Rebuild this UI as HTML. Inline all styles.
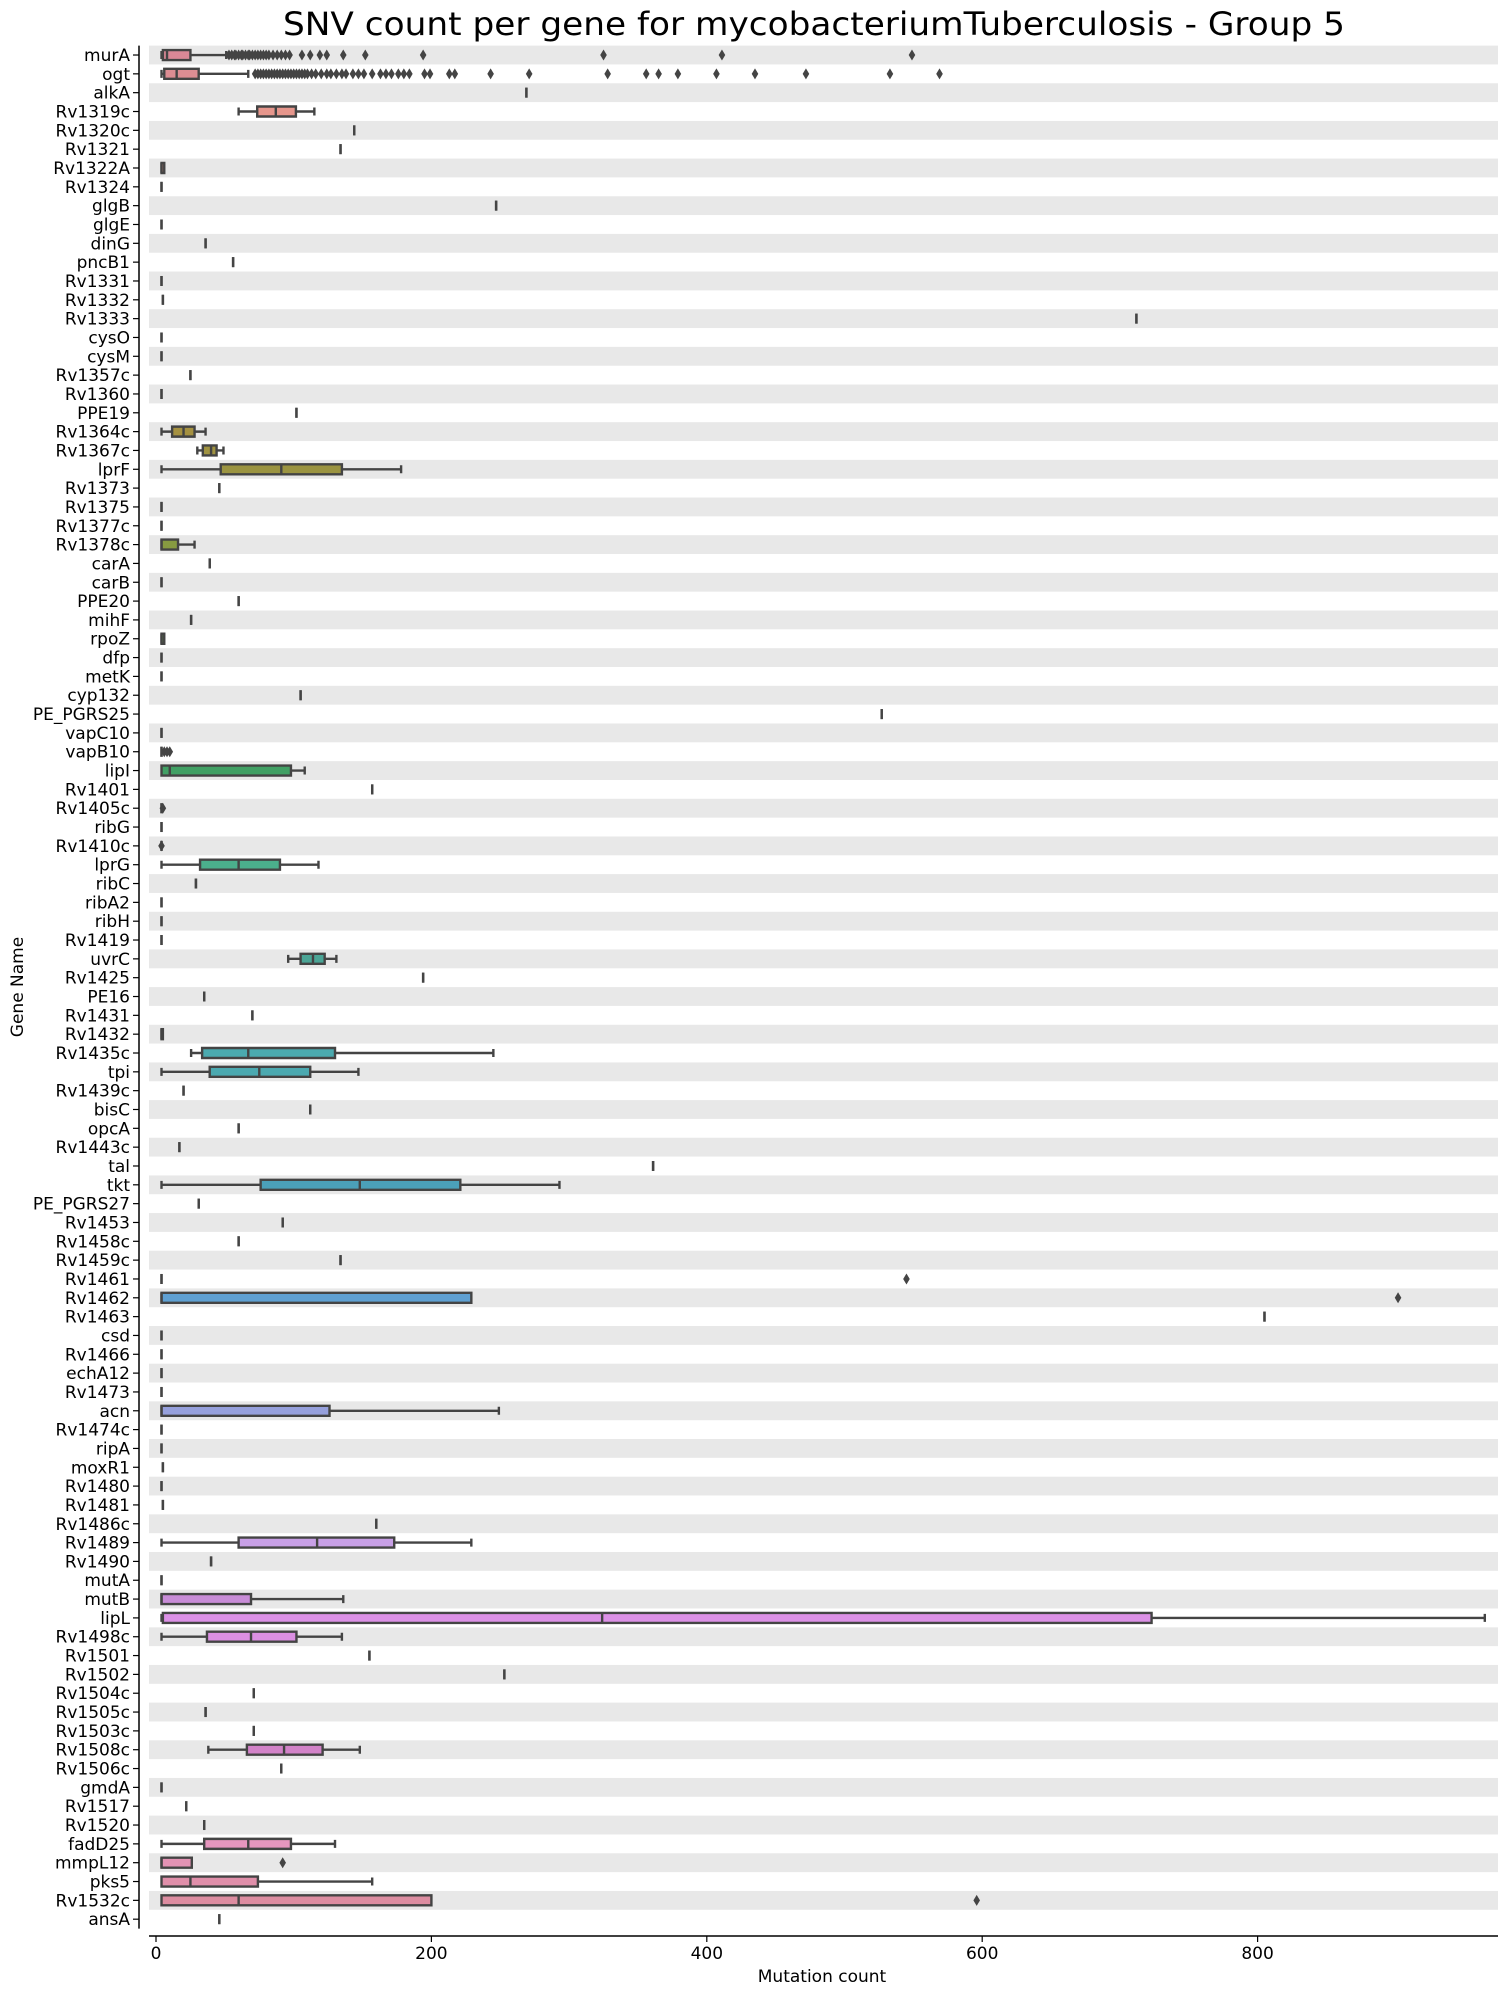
<!DOCTYPE html>
<html><head><meta charset="utf-8"><style>
html,body{margin:0;padding:0;background:#fff;}
svg{display:block;font-family:"DejaVu Sans","Liberation Sans",sans-serif;}
</style></head><body>
<svg id="chart" width="1508" height="1996" viewBox="0 0 1508 1996" xmlns="http://www.w3.org/2000/svg">
<text x="814" y="35" font-size="32" text-anchor="middle" textLength="1062" lengthAdjust="spacingAndGlyphs" fill="#000">SNV count per gene for mycobacteriumTuberculosis - Group 5</text>
<g id="stripes"></g>
<g id="boxes"></g>
<g id="yaxis"></g>
<g id="xaxis"></g>
<text x="822" y="1982" font-size="17" text-anchor="middle">Mutation count</text>
<text x="0" y="0" font-size="17" text-anchor="middle" transform="translate(23,987) rotate(-90)">Gene Name</text>
</svg>
<script>
const genes = ["murA","ogt","alkA","Rv1319c","Rv1320c","Rv1321","Rv1322A","Rv1324","glgB","glgE","dinG","pncB1","Rv1331","Rv1332","Rv1333","cysO","cysM","Rv1357c","Rv1360","PPE19","Rv1364c","Rv1367c","lprF","Rv1373","Rv1375","Rv1377c","Rv1378c","carA","carB","PPE20","mihF","rpoZ","dfp","metK","cyp132","PE_PGRS25","vapC10","vapB10","lipI","Rv1401","Rv1405c","ribG","Rv1410c","lprG","ribC","ribA2","ribH","Rv1419","uvrC","Rv1425","PE16","Rv1431","Rv1432","Rv1435c","tpi","Rv1439c","bisC","opcA","Rv1443c","tal","tkt","PE_PGRS27","Rv1453","Rv1458c","Rv1459c","Rv1461","Rv1462","Rv1463","csd","Rv1466","echA12","Rv1473","acn","Rv1474c","ripA","moxR1","Rv1480","Rv1481","Rv1486c","Rv1489","Rv1490","mutA","mutB","lipL","Rv1498c","Rv1501","Rv1502","Rv1504c","Rv1505c","Rv1503c","Rv1508c","Rv1506c","gmdA","Rv1517","Rv1520","fadD25","mmpL12","pks5","Rv1532c","ansA"];
const whiskerLow = [4,4,269,60,144,134,4,4,247,4,36,56,4,5,712,4,4,25,4,102,4,30,4,46,4,4,4,39,4,60,25.5,4,4,4,105,527,4,4,4,157,4,4,4,4,29,4,4,4,96,194,35,70,4,25.5,4,20,112,60,17,361,4,31,92,60,134,4,4,805,4,4,4,4,4,4,4,5,4,5,160,4,40,4,4,4,4,155,253,71,36,71,38,91,4,22,35,4,4,4,4,46];
const q1 = [5,6,269,73.5,144,134,4,4,247,4,36,56,4,5,712,4,4,25,4,102,11.7,34,47,46,4,4,4,39,4,60,25.5,4,4,4,105,527,4,4,4,157,4,4,4,32,29,4,4,4,105,194,35,70,4,33.5,39,20,112,60,17,361,76,31,92,60,134,4,4,805,4,4,4,4,4,4,4,5,4,5,160,60,40,4,4,5,37,155,253,71,36,71,66,91,4,22,35,35,4,4,4,46];
const median = [8,15,269,87,144,134,4,4,247,4,36,56,4,5,712,4,4,25,4,102,20,40,91,46,4,4,4,39,4,60,25.5,4,4,4,105,527,4,4,10,157,4,4,4,60,29,4,4,4,114,194,35,70,4,67,75,20,112,60,17,361,148,31,92,60,134,4,4,805,4,4,4,4,4,4,4,5,4,5,160,117,40,4,4,324,69,155,253,71,36,71,93,91,4,22,35,67,4,25,60,46];
const q3 = [25,31,269,101.6,144,134,6,4,247,4,36,56,4,5,712,4,4,25,4,102,28,44,135,46,4,4,16,39,4,60,25.5,6,4,4,105,527,4,4,98,157,4,4,4,90,29,4,4,4,122.5,194,35,70,5,130,112,20,112,60,17,361,221,31,92,60,134,4,229,805,4,4,4,4,126,4,4,5,4,5,160,173,40,4,69,723,102,155,253,71,36,71,121,91,4,22,35,98,26,74,200,46];
const whiskerHigh = [51,67,269,115,144,134,6,4,247,4,36,56,4,5,712,4,4,25,4,102,36,49,178,46,4,4,28,39,4,60,25.5,6,4,4,105,527,4,4,108,157,4,4,4,118,29,4,4,4,131,194,35,70,5,245,147,20,112,60,17,361,293,31,92,60,134,4,229,805,4,4,4,4,249,4,4,5,4,5,160,229,40,4,136,965,135,155,253,71,36,71,148,91,4,22,35,130,26,157,200,46];
const outliers = {
  0:[53,55,57,58,60,62,63,65,67,68,70,72,74,76,78,80,82,85,88,91,94,97,106,112,119,124,136,152,194,325,411,549],
  1:[72,74,76,78,80,82,84,86,88,90,92,94,96,98,100,102,104,106,108,110,113,116,120,124,127,131,135,138,143,147,151,157,163,167,171,176,180,184,195,199,213,217,243,271,328,356,365,379,407,435,472,533,569],
  37:[6,8,10],
  40:[5],
  42:[4],
  65:[545],
  66:[902],
  96:[92],
  98:[596]
};
const xTicks = [0,200,400,600,800];

const X0 = 156, XS = 1.377, TOP = 45.6, PITCH = 18.83, LEFT = 149, RIGHT = 1498;
function xPos(v){ return X0 + v*XS; }
function yPos(i){ return TOP + (i+0.5)*PITCH; }

const NS = "http://www.w3.org/2000/svg";
function mk(tag, attrs, parent){
  const e = document.createElementNS(NS, tag);
  for (const k in attrs) e.setAttribute(k, attrs[k]);
  parent.appendChild(e);
  return e;
}
const anchors = [[0,[217,136,150]],[3,[230,150,140]],[12,[205,145,95]],[20,[165,145,65]],[26,[135,155,65]],[34,[90,160,85]],[38,[65,160,100]],[43,[75,175,140]],[48,[75,165,150]],[53,[75,170,175]],[60,[75,160,185]],[66,[95,160,210]],[72,[150,160,220]],[79,[200,160,230]],[82,[200,140,215]],[83,[220,145,230]],[90,[210,130,200]],[95,[230,150,190]],[99,[217,136,150]]];
function colorAt(i){
  for (let k=0;k<anchors.length-1;k++){
    const a=anchors[k], b=anchors[k+1];
    if (i>=a[0] && i<=b[0]){
      const t=(i-a[0])/(b[0]-a[0]||1);
      const c=a[1].map((v,j)=>Math.round(v+(b[1][j]-v)*t));
      return "rgb("+c.join(",")+")";
    }
  }
  return "rgb(217,136,150)";
}

const stripes = document.getElementById("stripes");
const boxes = document.getElementById("boxes");
const yaxis = document.getElementById("yaxis");
const xaxis = document.getElementById("xaxis");
const EDGE = "#444";

genes.forEach((g,i)=>{
  if (i%2===0){
    const s = mk("rect",{x:LEFT,y:TOP+i*PITCH,width:RIGHT-LEFT,height:PITCH,fill:"#e8e8e8"},stripes);
    
    
  }
  const cy = yPos(i);
  const grp = mk("g",{},boxes);
  
  
  const lo=xPos(whiskerLow[i]), a=xPos(q1[i]), m=xPos(median[i]), b=xPos(q3[i]), hi=xPos(whiskerHigh[i]);
  const hh=5, ch=4;
  if (lo < a) {
    const w = mk("path",{d:`M${lo} ${cy}H${a}M${lo} ${cy-ch}V${cy+ch}`,stroke:EDGE,"stroke-width":2.4,fill:"none"},grp);
    
    
  }
  if (hi > b) {
    const w = mk("path",{d:`M${b} ${cy}H${hi}M${hi} ${cy-ch}V${cy+ch}`,stroke:EDGE,"stroke-width":2.4,fill:"none"},grp);
    
    
  }
  const bx = mk("path",{d:`M${a} ${cy-hh}H${b}V${cy+hh}H${a}Z`,fill:colorAt(i),stroke:EDGE,"stroke-width":2.4},grp);
  
  
  const md = mk("path",{d:`M${m} ${cy-hh}V${cy+hh}`,stroke:EDGE,"stroke-width":2.4},grp);
  
  
  (outliers[i]||[]).forEach(v=>{
    const px=xPos(v);
    const d = mk("path",{d:`M${px} ${cy-5.5}L${px+3.3} ${cy}L${px} ${cy+5.5}L${px-3.3} ${cy}Z`,fill:EDGE},grp);
    
    
  });
  const t = mk("text",{x:130,y:cy+6,"font-size":17,"text-anchor":"end",fill:"#000"},yaxis);
  t.textContent = g;
  
  
  const tk = mk("line",{x1:133,x2:139,y1:cy,y2:cy,stroke:"#000","stroke-width":1.2},yaxis);
  
  
});
const ys = mk("line",{x1:139,x2:139,y1:TOP,y2:TOP+genes.length*PITCH,stroke:"#000","stroke-width":1.5},yaxis);


const xs = mk("line",{x1:LEFT,x2:RIGHT,y1:1936,y2:1936,stroke:"#000","stroke-width":1.5},xaxis);


xTicks.forEach(v=>{
  const px=xPos(v);
  const tk = mk("line",{x1:px,x2:px,y1:1936,y2:1942,stroke:"#000","stroke-width":1.2},xaxis);
  
  
  const t = mk("text",{x:px,y:1959,"font-size":17,"text-anchor":"middle"},xaxis);
  t.textContent = String(v);
  
  
});
</script>
</body></html>
